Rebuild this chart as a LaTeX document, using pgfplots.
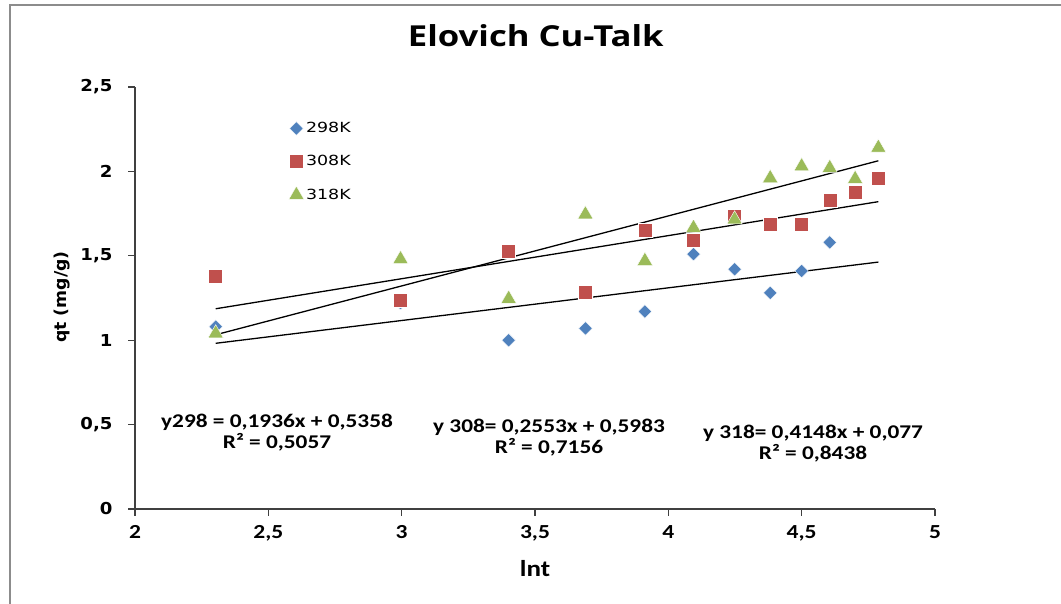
\documentclass[border=0pt]{standalone}
\usepackage{fontspec}
\setmainfont{Carlito}
\newfontfamily\verdana{DejaVu Sans}
\newfontfamily\titlefont{Open Sans}
\usepackage{graphicx}
\usepackage{pgfplots}
\usepackage{pgfplotstable}
\pgfplotsset{compat=1.18}

\definecolor{c298}{HTML}{4F81BD}
\definecolor{c308}{HTML}{C0504D}
\definecolor{c318}{HTML}{9BBB59}
\definecolor{axisgray}{HTML}{404040}

% horizontally widened text, as in the sheet's chart
\newcommand\wide[2][1.18]{\scalebox{#1}[1]{#2}}

% ln t versus q_t
\pgfplotstableread{
x y
2.3026 1.08
2.9957 1.22
3.4012 1.00
3.6889 1.07
3.9120 1.17
4.0943 1.51
4.2485 1.42
4.3820 1.28
4.4998 1.41
4.6052 1.58
}\dataA
\pgfplotstableread{
x y
2.3026 1.38
2.9957 1.235
3.4012 1.525
3.6889 1.285
3.9120 1.65
4.0943 1.59
4.2485 1.735
4.3820 1.685
4.4998 1.685
4.6052 1.83
4.7005 1.875
4.7875 1.96
}\dataB
\pgfplotstableread{
x y
2.3026 1.04
2.9957 1.48
3.4012 1.245
3.6889 1.745
3.9120 1.47
4.0943 1.665
4.2485 1.715
4.3820 1.96
4.4998 2.03
4.6052 2.02
4.7005 1.955
4.7875 2.14
}\dataC

\begin{document}
\begin{tikzpicture}[x=1bp,y=1bp]
\useasboundingbox (0,0) rectangle (1061,604);
\fill[white] (0,0) rectangle (1061,604);
\draw[black!45, line width=1.3bp] (10,-20) -- (10,599) -- (1090,599);
\begin{axis}[
  at={(135bp,95bp)}, anchor=south west,
  scale only axis, width=800bp, height=422bp,
  xmin=2, xmax=5, ymin=0, ymax=2.5,
  axis lines*=left,
  axis line style={line width=1.4bp, axisgray},
  xtick={2,2.5,...,5}, ytick={0,0.5,...,2.5},
  tick align=outside, major tick length=7bp,
  tick style={line width=1.2bp, axisgray},
  /pgf/number format/assume math mode=true,
  /pgf/number format/use comma,
  xticklabel={\wide{\pgfmathprintnumber{\tick}}},
  yticklabel={\wide[1.1]{\pgfmathprintnumber{\tick}}},
  xticklabel style={font=\bfseries\fontsize{20}{20}\selectfont, yshift=-6bp},
  yticklabel style={font=\verdana\bfseries\fontsize{16.5}{16.5}\selectfont, xshift=-12bp},
  title={\wide[1.2]{Elovich Cu-Talk}},
  title style={at={(axis description cs:0.501,1.0806)}, anchor=base,
    font=\titlefont\bfseries\fontsize{29}{29}\selectfont},
  xlabel={\wide{lnt}},
  xlabel style={at={(axis description cs:0.5,-0.14)}, anchor=center,
    font=\bfseries\fontsize{23}{23}\selectfont},
  ylabel={\wide[1.05]{qt (mg/g)}},
  ylabel style={at={(axis description cs:-0.091,0.502)}, anchor=center,
    font=\verdana\bfseries\fontsize{16.5}{16.5}\selectfont},
  legend style={draw=none, fill=none, at={(axis description cs:0.19,0.921)},
    anchor=north west, font=\verdana\fontsize{14}{14}\selectfont,
    row sep=17bp, inner sep=0pt, legend cell align=left},
  legend image code/.code={\draw[#1] (0bp,0bp) -- plot coordinates {(9bp,0bp)};},
]
\addplot[only marks, mark=square*, mark size=4.8bp,
  mark options={rotate=45, fill=c298, draw=white, line width=0.4bp}] table {\dataA};
\addlegendentry{\wide[1.25]{298K}}
\addplot[only marks, mark=square*, mark size=7bp,
  mark options={fill=c308, draw=white, line width=0.4bp}] table {\dataB};
\addlegendentry{\wide[1.25]{308K}}
\addplot[only marks, mark=triangle*, mark size=8.8bp,
  mark options={fill=c318, draw=white, line width=0.4bp}] table {\dataC};
\addlegendentry{\wide[1.25]{318K}}
% linear trendlines over the measured range
\addplot[forget plot, black, line width=1.3bp] coordinates {(2.3026,0.9816) (4.7875,1.4627)};
\addplot[forget plot, black, line width=1.3bp] coordinates {(2.3026,1.1862) (4.7875,1.8206)};
\addplot[forget plot, black, line width=1.3bp] coordinates {(2.3026,1.0321) (4.7875,2.0629)};
\end{axis}
\begin{scope}[every node/.style={align=center, font=\bfseries\fontsize{19.5}{21}\selectfont, inner sep=0pt}]
\node at (277,171) {\wide[1.2]{y298 = 0,1936x + 0,5358}\\\wide[1.2]{R² = 0,5057}};
\node at (549,166) {\wide[1.2]{y 308= 0,2553x + 0,5983}\\\wide[1.2]{R² = 0,7156}};
\node at (813,160) {\wide[1.2]{y 318= 0,4148x + 0,077}\\\wide[1.2]{R² = 0,8438}};
\end{scope}
\end{tikzpicture}
\end{document}
